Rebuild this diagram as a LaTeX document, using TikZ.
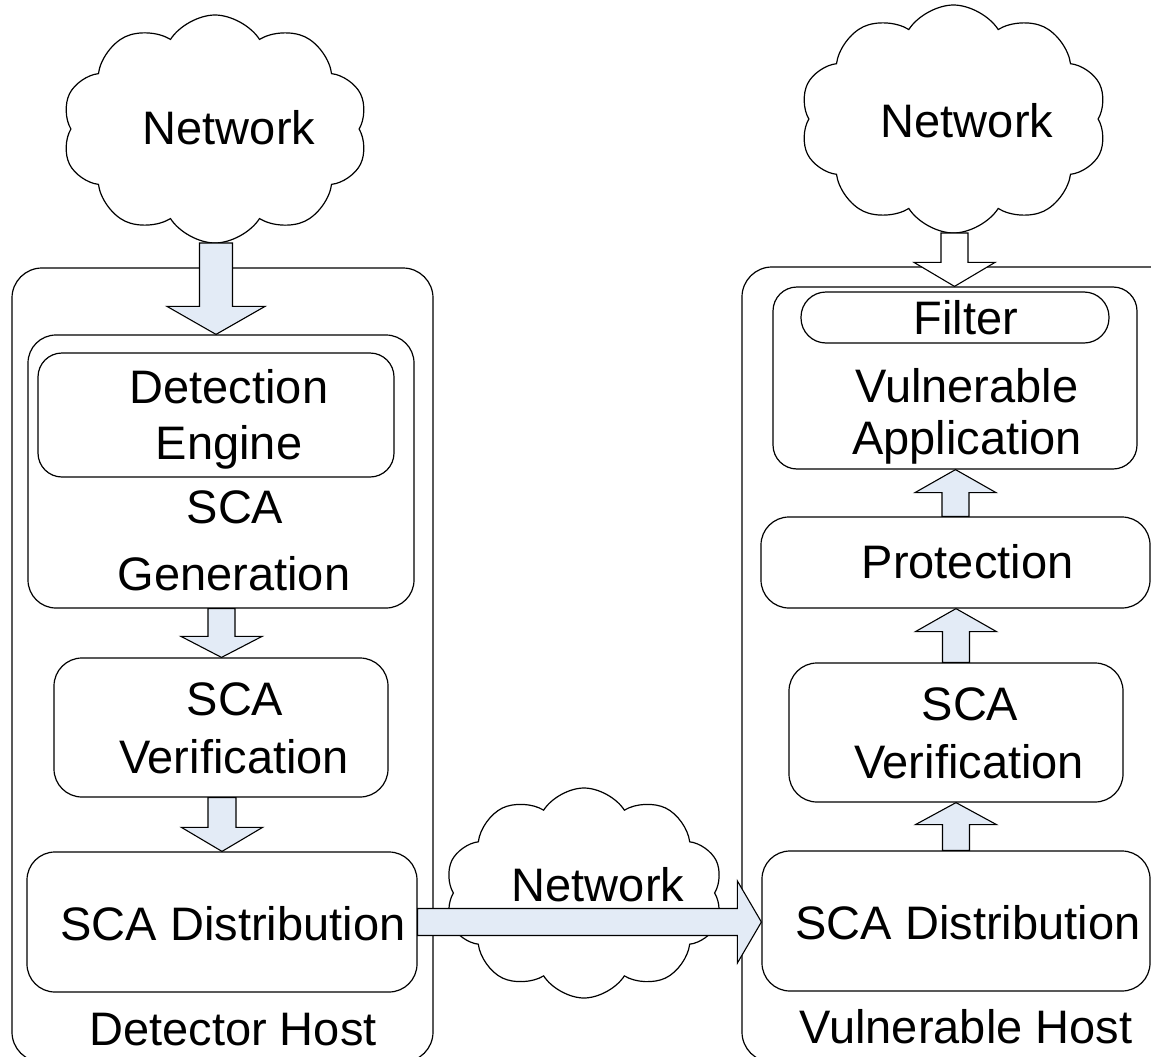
\documentclass[tikz,border=0pt]{standalone}
\usepackage{fontspec}
\setmainfont{Liberation Sans}
\usetikzlibrary{shapes.symbols,calc}
\definecolor{arrowfill}{RGB}{227,235,246}
\tikzset{
  box/.style={draw, line width=1.2pt, rounded corners=28pt, inner sep=0pt, fill=white},
  lbl/.style={anchor=base, inner sep=0pt, font=\fontsize{47}{56}\selectfont},
  blockarrow/.style={draw, line width=1.1pt, fill=arrowfill, line join=miter},
  netcloud/.style={cloud, draw, line width=1.2pt, cloud puffs=10, cloud puff arc=115, inner sep=0pt, fill=white},
}
\newcommand\rbox[6][]{\node[box,#1,minimum width={#5-#3},minimum height={#6-#4}] (#2) at ({(#3+#5)/2},{(#4+#6)/2}) {};}
\newcommand\blkarrow[6][]{%
  \coordinate (hb) at ($(#3)!#6!(#2)$);
  \draw[blockarrow,#1] ($(#2)!#4!90:(#3)$) -- ($(hb)!#4!-90:(#2)$) -- ($(hb)!#5!-90:(#2)$) -- (#3) -- ($(hb)!#5!90:(#2)$) -- ($(hb)!#4!90:(#2)$) -- ($(#2)!#4!-90:(#3)$) -- cycle;}
\begin{document}
\begin{tikzpicture}[x=1pt,y=-1pt]
\useasboundingbox (0,0) rectangle (1151,1057);
\clip (0,0) rectangle (1151,1057);
% hosts
\rbox[rounded corners=30pt]{hostL}{12}{268}{433}{1062}
\rbox[rounded corners=30pt]{hostR}{742}{267}{1185}{1062}
% left column
\rbox{gen}{28}{335}{414}{608}
\rbox[rounded corners=24pt]{deteng}{38}{353}{394}{477}
\rbox{verL}{54}{658}{388}{797}
\rbox{distL}{27}{852}{417}{992}
% right column
\rbox[rounded corners=24pt]{app}{773}{287}{1137}{469}
\rbox[rounded corners=25pt]{filter}{801}{292}{1109}{343}
\rbox{prot}{761}{517}{1150}{608}
\rbox{verR}{789}{663}{1123}{802}
\rbox{distR}{762}{851}{1150}{991}
% clouds
\node[netcloud, minimum width=306pt, minimum height=228pt] (cloudL) at (215,129) {};
\node[netcloud, minimum width=307pt, minimum height=228pt] (cloudR) at (953.5,119) {};
\node[netcloud, minimum width=278pt, minimum height=210pt] (cloudB) at (584,893) {};
% texts
\node[lbl] (tNetL) at (229,144) {Network};
\node[lbl] (tNetR) at (967,137) {Network};
\node[lbl] (tNetB) at (598,901) {Network};
\node[lbl] (tDet1) at (229,403) {Detection};
\node[lbl] (tDet2) at (229,459) {Engine};
\node[lbl] (tGen1) at (235,523) {SCA};
\node[lbl] (tGen2) at (234,590) {Generation};
\node[lbl] (tVerL1) at (235,715) {SCA};
\node[lbl] (tVerL2) at (234,773) {Verification};
\node[lbl] (tDistL) at (233,940) {SCA Distribution};
\node[lbl] (tHostL) at (233,1045) {Detector Host};
\node[lbl] (tFilter) at (966,334) {Filter};
\node[lbl] (tApp1) at (967,402) {Vulnerable};
\node[lbl] (tApp2) at (967,454) {Application};
\node[lbl] (tProt) at (967.5,578) {Protection};
\node[lbl] (tVerR1) at (970,720) {SCA};
\node[lbl] (tVerR2) at (969,778) {Verification};
\node[lbl] (tDistR) at (968,939) {SCA Distribution};
\node[lbl] (tHostR) at (966,1043) {Vulnerable Host};
% arrows
\coordinate (a1s) at (216,243);
\coordinate (a1e) at (a1s |- gen.north);
\blkarrow{a1s}{a1e}{16.5pt}{49pt}{28pt}
\coordinate (a2s) at (221.5,0 |- gen.south);
\coordinate (a2s) at (gen.south -| 221.5,0);
\coordinate (a2e) at (a2s |- verL.north);
\blkarrow{a2s}{a2e}{13.5pt}{40.5pt}{21pt}
\coordinate (a3s) at (verL.south -| 222,0);
\coordinate (a3e) at (a3s |- distL.north);
\blkarrow{a3s}{a3e}{14pt}{40.5pt}{24pt}
\coordinate (a4e) at (distL.east -| distR.west);
\blkarrow{distL.east}{a4e}{13.5pt}{41pt}{24pt}
\coordinate (a5s) at (954.5,233);
\coordinate (a5e) at (a5s |- app.north);
\blkarrow[fill=white]{a5s}{a5e}{13.5pt}{40.5pt}{24pt}
\coordinate (a6s) at (prot.north -| 955.5,0);
\coordinate (a6e) at (a6s |- app.south);
\blkarrow{a6s}{a6e}{13.5pt}{40.5pt}{23pt}
\coordinate (a7s) at (verR.north -| 956,0);
\coordinate (a7e) at (a7s |- prot.south);
\blkarrow{a7s}{a7e}{13.5pt}{40.5pt}{23pt}
\coordinate (a8s) at (distR.north -| 956,0);
\coordinate (a8e) at (a8s |- verR.south);
\blkarrow{a8s}{a8e}{13.5pt}{40.5pt}{22pt}
\end{tikzpicture}
\end{document}
